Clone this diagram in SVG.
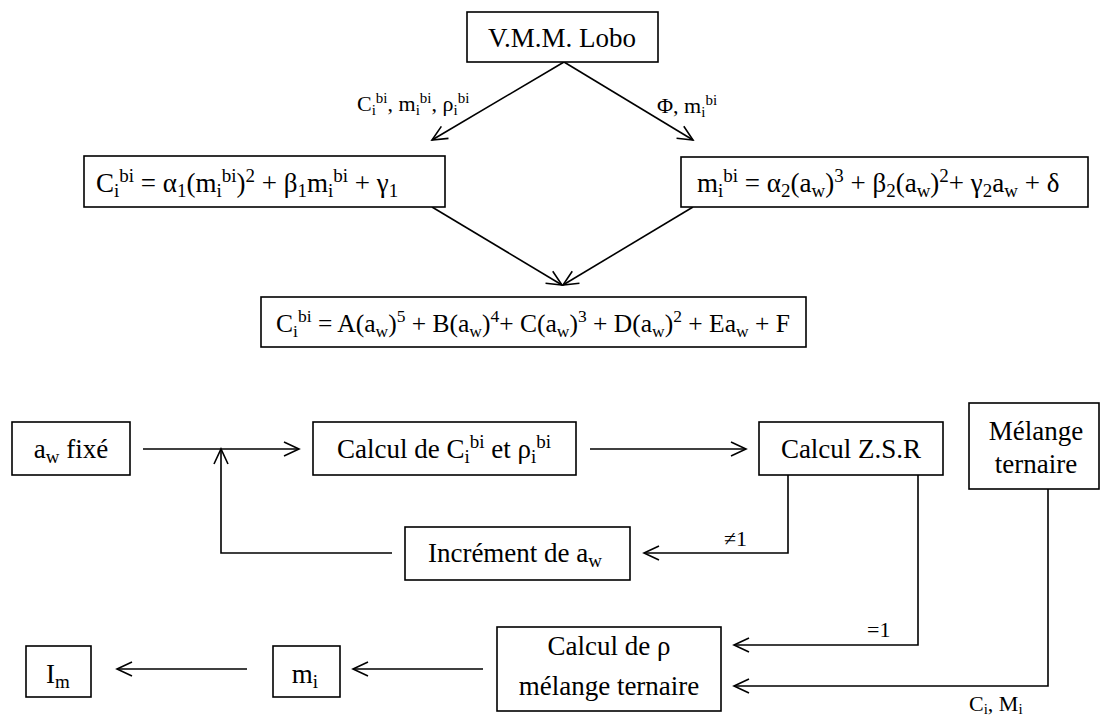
<svg xmlns="http://www.w3.org/2000/svg" width="1105" height="722" viewBox="0 0 1105 722">
<style>
.b{fill:#fff;stroke:#000;stroke-width:1.6}
.t{font-family:'Liberation Serif',Tinos,'Times New Roman','DejaVu Serif',serif;font-size:27px;fill:#000}
.s{font-size:19px}
.f{font-size:25.5px}
.fs{font-size:17.5px}
.l{font-family:'Liberation Serif',Tinos,'Times New Roman','DejaVu Serif',serif;font-size:22px;fill:#000}
.ls{font-size:15px}
.c{fill:none;stroke:#000;stroke-width:1.6}
</style>
<defs>
<marker id="ah" markerUnits="userSpaceOnUse" markerWidth="24" markerHeight="24" viewBox="-20 -12 24 24" refX="0" refY="0" orient="auto">
<path d="M-15,-7 L0,0 L-15,7" fill="none" stroke="#000" stroke-width="1.6"/>
</marker>
</defs>
<rect width="1105" height="722" fill="#fff"/>

<g id="connectors">
<line class="c" x1="564" y1="62" x2="432" y2="140" marker-end="url(#ah)"/>
<line class="c" x1="564" y1="62" x2="693" y2="140" marker-end="url(#ah)"/>
<line class="c" x1="432" y1="207" x2="562" y2="285" marker-end="url(#ah)"/>
<line class="c" x1="693" y1="207" x2="563" y2="285" marker-end="url(#ah)"/>
<line class="c" x1="143" y1="449" x2="299" y2="449" marker-end="url(#ah)"/>
<line class="c" x1="590" y1="449" x2="746" y2="449" marker-end="url(#ah)"/>
<polyline class="c" points="788,475 788,553 644,553" marker-end="url(#ah)"/>
<polyline class="c" points="392,553 221,553 221,449" marker-end="url(#ah)"/>
<polyline class="c" points="918,475 918,645 734,645" marker-end="url(#ah)"/>
<polyline class="c" points="1048,489 1048,686 734,686" marker-end="url(#ah)"/>
<line class="c" x1="483" y1="669" x2="353" y2="669" marker-end="url(#ah)"/>
<line class="c" x1="247" y1="669" x2="117" y2="669" marker-end="url(#ah)"/>
<text class="l" x="357" y="111">C<tspan class="ls" dy="4">i</tspan><tspan class="ls" dy="-12">bi</tspan><tspan dy="8">, m</tspan><tspan class="ls" dy="4">i</tspan><tspan class="ls" dy="-12">bi</tspan><tspan dy="8">, ρ</tspan><tspan class="ls" dy="4">i</tspan><tspan class="ls" dy="-12">bi</tspan></text>
<text class="l" x="657" y="113">Φ, m<tspan class="ls" dy="4">i</tspan><tspan class="ls" dy="-12">bi</tspan></text>
<text class="l" x="724" y="546">≠1</text>
<text class="l" x="867" y="637">=1</text>
<text class="l" x="969" y="711">C<tspan class="ls" dy="3">i</tspan><tspan dy="-3">, M</tspan><tspan class="ls" dy="3">i</tspan></text>
</g>

<g id="lobo">
<rect class="b" x="467" y="12" width="191" height="50"/>
<text class="t" x="562" y="47" text-anchor="middle">V.M.M. Lobo</text>
</g>

<g id="formula-c">
<rect class="b" x="84" y="156" width="361" height="51"/>
<text class="t" x="96" y="192">C<tspan class="s" dy="5">i</tspan><tspan class="s" dy="-15">bi</tspan><tspan dy="10"> = α</tspan><tspan class="s" dy="5">1</tspan><tspan dy="-5">(m</tspan><tspan class="s" dy="5">i</tspan><tspan class="s" dy="-15">bi</tspan><tspan dy="10">)</tspan><tspan class="s" dy="-10">2</tspan><tspan dy="10"> + β</tspan><tspan class="s" dy="5">1</tspan><tspan dy="-5">m</tspan><tspan class="s" dy="5">i</tspan><tspan class="s" dy="-15">bi</tspan><tspan dy="10"> + γ</tspan><tspan class="s" dy="5">1</tspan></text>
</g>

<g id="formula-m">
<rect class="b" x="681" y="157" width="407" height="50"/>
<text class="t" x="697" y="192">m<tspan class="s" dy="5">i</tspan><tspan class="s" dy="-15">bi</tspan><tspan dy="10"> = α</tspan><tspan class="s" dy="5">2</tspan><tspan dy="-5">(a</tspan><tspan class="s" dy="5">w</tspan><tspan dy="-5">)</tspan><tspan class="s" dy="-10">3</tspan><tspan dy="10"> + β</tspan><tspan class="s" dy="5">2</tspan><tspan dy="-5">(a</tspan><tspan class="s" dy="5">w</tspan><tspan dy="-5">)</tspan><tspan class="s" dy="-10">2</tspan><tspan dy="10">+ γ</tspan><tspan class="s" dy="5">2</tspan><tspan dy="-5">a</tspan><tspan class="s" dy="5">w</tspan><tspan dy="-5"> + δ</tspan></text>
</g>

<g id="formula-final">
<rect class="b" x="261" y="297" width="545" height="50"/>
<text class="t f" x="533" y="332" text-anchor="middle">C<tspan class="fs" dy="5">i</tspan><tspan class="fs" dy="-15">bi</tspan><tspan dy="10"> = A(a</tspan><tspan class="fs" dy="5">w</tspan><tspan dy="-5">)</tspan><tspan class="fs" dy="-10">5</tspan><tspan dy="10"> + B(a</tspan><tspan class="fs" dy="5">w</tspan><tspan dy="-5">)</tspan><tspan class="fs" dy="-10">4</tspan><tspan dy="10">+ C(a</tspan><tspan class="fs" dy="5">w</tspan><tspan dy="-5">)</tspan><tspan class="fs" dy="-10">3</tspan><tspan dy="10"> + D(a</tspan><tspan class="fs" dy="5">w</tspan><tspan dy="-5">)</tspan><tspan class="fs" dy="-10">2</tspan><tspan dy="10"> + Ea</tspan><tspan class="fs" dy="5">w</tspan><tspan dy="-5"> + F</tspan></text>
</g>

<g id="aw-fixe">
<rect class="b" x="12" y="422" width="118" height="53"/>
<text class="t" x="71" y="458" text-anchor="middle">a<tspan class="s" dy="5">w</tspan><tspan dy="-5"> fixé</tspan></text>
</g>

<g id="calcul-c">
<rect class="b" x="313" y="422" width="263" height="53"/>
<text class="t" x="444" y="458" text-anchor="middle">Calcul de C<tspan class="s" dy="5">i</tspan><tspan class="s" dy="-15">bi</tspan><tspan dy="10"> et ρ</tspan><tspan class="s" dy="5">i</tspan><tspan class="s" dy="-15">bi</tspan></text>
</g>

<g id="calcul-zsr">
<rect class="b" x="759" y="422" width="184" height="53"/>
<text class="t" x="851" y="458" text-anchor="middle">Calcul Z.S.R</text>
</g>

<g id="melange">
<rect class="b" x="969" y="403" width="130" height="86"/>
<text class="t" x="1036" y="440" text-anchor="middle">Mélange</text>
<text class="t" x="1036" y="473" text-anchor="middle">ternaire</text>
</g>

<g id="increment">
<rect class="b" x="405" y="527" width="225" height="53"/>
<text class="t" x="515" y="562" text-anchor="middle">Incrément de a<tspan class="s" dy="5">w</tspan></text>
</g>

<g id="calcul-rho">
<rect class="b" x="497" y="627" width="224" height="84"/>
<text class="t" x="609" y="655" text-anchor="middle">Calcul de ρ</text>
<text class="t" x="609" y="695" text-anchor="middle">mélange ternaire</text>
</g>

<g id="mi">
<rect class="b" x="273" y="646" width="67" height="51"/>
<text class="t" x="305" y="683" text-anchor="middle">m<tspan class="s" dy="5">i</tspan></text>
</g>

<g id="im">
<rect class="b" x="26" y="646" width="65" height="51"/>
<text class="t" x="58" y="683" text-anchor="middle">I<tspan class="s" dy="5">m</tspan></text>
</g>
</svg>
